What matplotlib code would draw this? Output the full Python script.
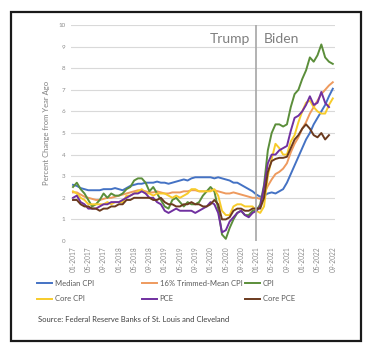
import numpy as np
import matplotlib
matplotlib.use('Agg')
import matplotlib.pyplot as plt
from matplotlib.patches import Rectangle

plt.rcParams['font.family'] = ['Lato', 'DejaVu Sans']

# monthly, 01-2017 .. 09-2022 (PCE series end 08-2022)
tick_labels = ['01-2017', '05-2017', '09-2017', '01-2018', '05-2018', '09-2018',
               '01-2019', '05-2019', '09-2019', '01-2020', '05-2020', '09-2020',
               '01-2021', '05-2021', '09-2021', '01-2022', '05-2022', '09-2022']

median_cpi = [2.60, 2.55, 2.45, 2.40, 2.35, 2.35, 2.35, 2.35, 2.40, 2.40, 2.40, 2.45,
              2.40, 2.35, 2.45, 2.55, 2.60, 2.65, 2.65, 2.70, 2.70, 2.70, 2.75, 2.70,
              2.70, 2.65, 2.70, 2.75, 2.80, 2.85, 2.80, 2.90, 2.95, 2.95, 2.95, 2.95,
              2.95, 2.90, 2.95, 2.90, 2.85, 2.80, 2.70, 2.70, 2.60, 2.50, 2.40, 2.30,
              2.15, 2.05, 2.10, 2.20, 2.25, 2.20, 2.30, 2.40, 2.70, 3.10, 3.50, 3.90,
              4.30, 4.70, 5.00, 5.40, 5.70, 6.00, 6.30, 6.70, 7.05]

trimmed_cpi = [2.25, 2.25, 2.15, 2.05, 2.00, 1.95, 1.90, 1.90, 1.95, 2.00, 2.00, 2.05,
               2.10, 2.15, 2.20, 2.25, 2.30, 2.35, 2.35, 2.30, 2.25, 2.25, 2.30, 2.25,
               2.20, 2.20, 2.25, 2.25, 2.25, 2.30, 2.30, 2.35, 2.35, 2.30, 2.30, 2.30,
               2.35, 2.35, 2.30, 2.25, 2.20, 2.20, 2.25, 2.20, 2.15, 2.10, 2.05, 2.00,
               2.00, 1.95, 2.20, 2.55, 2.85, 3.10, 3.20, 3.35, 3.60, 4.10, 4.50, 4.80,
               5.20, 5.50, 5.90, 6.20, 6.50, 6.80, 7.00, 7.20, 7.35]

cpi = [2.5, 2.7, 2.4, 2.2, 1.9, 1.6, 1.7, 1.9, 2.2, 2.0, 2.2, 2.1,
       2.1, 2.2, 2.4, 2.5, 2.8, 2.9, 2.9, 2.7, 2.3, 2.5, 2.2, 1.9,
       1.6, 1.5, 1.9, 2.0, 1.8, 1.6, 1.8, 1.7, 1.7, 1.8, 2.1, 2.3,
       2.5, 2.3, 1.5, 0.3, 0.1, 0.6, 1.0, 1.3, 1.4, 1.2, 1.2, 1.4,
       1.4, 1.7, 2.6, 4.2, 5.0, 5.4, 5.4, 5.3, 5.4, 6.2, 6.8, 7.0,
       7.5, 7.9, 8.5, 8.3, 8.6, 9.1, 8.5, 8.3, 8.2]

core_cpi = [2.3, 2.2, 2.0, 1.9, 1.7, 1.7, 1.7, 1.7, 1.7, 1.8, 1.7, 1.8,
            1.8, 1.8, 2.1, 2.1, 2.2, 2.3, 2.4, 2.2, 2.2, 2.1, 2.2, 2.2,
            2.2, 2.1, 2.0, 2.1, 2.0, 2.1, 2.2, 2.4, 2.4, 2.3, 2.3, 2.3,
            2.3, 2.4, 2.1, 1.4, 1.2, 1.2, 1.6, 1.7, 1.7, 1.6, 1.6, 1.6,
            1.4, 1.3, 1.6, 3.0, 3.8, 4.5, 4.3, 4.0, 4.0, 4.6, 4.9, 5.5,
            6.0, 6.4, 6.5, 6.2, 6.0, 5.9, 5.9, 6.3, 6.6]

pce = [2.0, 2.1, 1.8, 1.7, 1.5, 1.5, 1.5, 1.6, 1.7, 1.7, 1.8, 1.8,
       1.8, 1.9, 2.0, 2.1, 2.2, 2.2, 2.3, 2.2, 2.0, 2.0, 1.8, 1.7,
       1.4, 1.3, 1.4, 1.5, 1.4, 1.4, 1.4, 1.4, 1.3, 1.4, 1.5, 1.6,
       1.8, 1.7, 1.3, 0.4, 0.5, 0.9, 1.1, 1.3, 1.4, 1.2, 1.1, 1.3,
       1.4, 1.6, 2.5, 3.6, 4.0, 4.0, 4.2, 4.3, 4.4, 5.1, 5.7, 5.8,
       6.0, 6.3, 6.7, 6.3, 6.4, 6.9, 6.4, 6.2]

core_pce = [1.9, 1.9, 1.7, 1.6, 1.6, 1.5, 1.5, 1.4, 1.5, 1.5, 1.6, 1.6,
            1.7, 1.7, 1.9, 1.9, 2.0, 2.0, 2.0, 2.0, 2.0, 1.9, 1.9, 2.0,
            1.8, 1.7, 1.7, 1.6, 1.6, 1.7, 1.7, 1.8, 1.7, 1.7, 1.6, 1.6,
            1.7, 1.9, 1.7, 1.0, 1.0, 1.1, 1.4, 1.5, 1.5, 1.4, 1.4, 1.5,
            1.5, 1.5, 2.0, 3.2, 3.7, 3.8, 3.85, 3.85, 3.9, 4.3, 4.7, 4.9,
            5.2, 5.4, 5.2, 4.9, 4.8, 5.0, 4.7, 4.9]

fig = plt.figure(figsize=(3.72, 3.52), dpi=100)
fig.patches.append(Rectangle((11 / 372, 1 - 341 / 352), 350 / 372, 329 / 352,
                             transform=fig.transFigure, fill=False,
                             edgecolor='#1a1a1a', linewidth=1.6))

ax = fig.add_axes([71.1 / 372, 1 - 241 / 352, 263.6 / 372, 216 / 352])

series = [
    ('Median CPI', median_cpi, '#4472C4'),
    ('16% Trimmed-Mean CPI', trimmed_cpi, '#EE9A5E'),
    ('CPI', cpi, '#5B8E3A'),
    ('Core CPI', core_cpi, '#F7CB2A'),
    ('PCE', pce, '#7030A0'),
    ('Core PCE', core_pce, '#6B3A1E'),
]
handles = {}
for name, vals, col in series:
    h, = ax.plot(np.arange(len(vals)), vals, color=col, lw=1.4, label=name)
    handles[name] = h

ax.axvline(48, color='#A6A6A6', lw=1.2)
ax.text(46.3, 9.35, 'Trump', ha='right', va='center', fontsize=10, color='#7F7F7F')
ax.text(49.8, 9.35, 'Biden', ha='left', va='center', fontsize=10, color='#7F7F7F')

ax.set_xlim(-0.5, 68.5)
ax.set_ylim(0, 10)
ax.set_yticks(range(0, 11))
ax.set_xticks(range(0, 69, 4))
ax.set_xticklabels(tick_labels, rotation=90)
ax.grid(axis='y', color='#D9D9D9', lw=0.8)
ax.set_axisbelow(True)
for s in ax.spines.values():
    s.set_visible(False)
ax.tick_params(axis='y', length=0, pad=4, labelsize=4.5, labelcolor='#8C8C8C')
ax.tick_params(axis='x', length=0, pad=4, labelsize=4.8, labelcolor='#8C8C8C')

fig.text(47 / 372, 1 - 133 / 352, 'Percent Change from Year Ago', rotation=90,
         ha='center', va='center', fontsize=5.5, color='#808080')

cols = [(['Median CPI', 'Core CPI'], 37), (['16% Trimmed-Mean CPI', 'PCE'], 142),
        (['CPI', 'Core PCE'], 245)]
for names, xp in cols:
    leg = fig.legend([handles[n] for n in names], names, loc='upper left',
                     bbox_to_anchor=(xp / 372, 1 - 280 / 352), frameon=False,
                     fontsize=5.5, handlelength=2.0, handletextpad=0.3,
                     labelspacing=1.1, borderpad=0, borderaxespad=0)
    for t in leg.get_texts():
        t.set_color('#595959')

fig.text(38 / 372, 1 - 319 / 352, 'Source: Federal Reserve Banks of St. Louis and Cleveland',
         ha='left', va='center', fontsize=5.5, color='#404040')

fig.savefig('out.png', dpi=100)
